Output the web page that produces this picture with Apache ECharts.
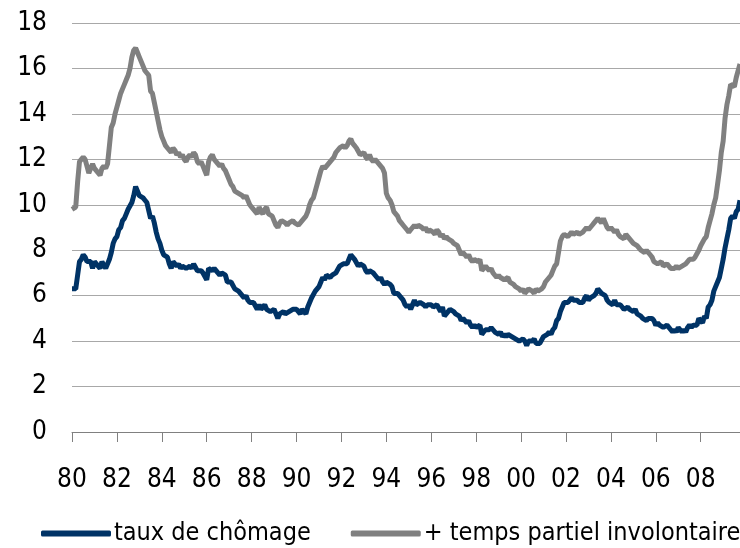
<!DOCTYPE html>
<html>
<head>
<meta charset="utf-8">
<script src="https://cdn.jsdelivr.net/npm/echarts@6/dist/echarts.min.js"></script>
<style>
  html, body { margin: 0; padding: 0; background: #fff; }
  #chart { width: 740px; height: 548px; }
</style>
</head>
<body>
<div id="chart"></div>
<script>
// séries mensuelles, janvier 1980 -> octobre 2009
var startYear = 1980
var nbMonths = 358

var chomage = [
  6.3, 6.3, 6.3, 6.9, 7.5, 7.6, 7.8, 7.7, 7.5, 7.5, 7.5, 7.2,
  7.5, 7.4, 7.4, 7.2, 7.5, 7.5, 7.2, 7.4, 7.6, 7.9, 8.3, 8.5,
  8.6, 8.9, 9.0, 9.3, 9.4, 9.6, 9.8, 9.8, 10.1, 10.4, 10.8, 10.8,
  10.4, 10.4, 10.3, 10.2, 10.1, 10.1, 9.4, 9.5, 9.2, 8.8, 8.5, 8.3,
  8.0, 7.8, 7.8, 7.7, 7.4, 7.2, 7.5, 7.5, 7.3, 7.4, 7.2, 7.3,
  7.3, 7.2, 7.2, 7.3, 7.2, 7.4, 7.4, 7.1, 7.1, 7.1, 7.0, 7.0,
  6.7, 7.2, 7.2, 7.1, 7.2, 7.2, 7.0, 6.9, 7.0, 7.0, 6.9, 6.6,
  6.6, 6.6, 6.6, 6.3, 6.3, 6.2, 6.1, 6.0, 5.9, 6.0, 5.8, 5.7,
  5.7, 5.7, 5.7, 5.4, 5.6, 5.4, 5.4, 5.6, 5.4, 5.4, 5.3, 5.3,
  5.4, 5.2, 5.0, 5.2, 5.2, 5.3, 5.2, 5.2, 5.3, 5.3, 5.4, 5.4,
  5.4, 5.3, 5.2, 5.4, 5.4, 5.2, 5.5, 5.7, 5.9, 5.9, 6.2, 6.3,
  6.4, 6.6, 6.8, 6.7, 6.9, 6.9, 6.8, 6.9, 6.9, 7.0, 7.0, 7.3,
  7.3, 7.4, 7.4, 7.4, 7.6, 7.8, 7.7, 7.6, 7.6, 7.3, 7.4, 7.4,
  7.3, 7.1, 7.0, 7.1, 7.1, 7.0, 6.9, 6.8, 6.7, 6.8, 6.6, 6.5,
  6.6, 6.6, 6.5, 6.4, 6.1, 6.1, 6.1, 6.0, 5.9, 5.8, 5.6, 5.5,
  5.6, 5.4, 5.4, 5.8, 5.6, 5.6, 5.7, 5.7, 5.6, 5.5, 5.6, 5.6,
  5.6, 5.5, 5.5, 5.6, 5.6, 5.3, 5.5, 5.1, 5.2, 5.2, 5.4, 5.4,
  5.3, 5.2, 5.2, 5.1, 4.9, 5.0, 4.9, 4.8, 4.9, 4.7, 4.6, 4.7,
  4.6, 4.6, 4.7, 4.3, 4.4, 4.5, 4.5, 4.5, 4.6, 4.5, 4.4, 4.4,
  4.3, 4.4, 4.2, 4.3, 4.2, 4.3, 4.3, 4.2, 4.2, 4.1, 4.1, 4.0,
  4.0, 4.1, 4.0, 3.8, 4.0, 4.0, 4.0, 4.1, 3.9, 3.9, 3.9, 3.9,
  4.2, 4.2, 4.3, 4.4, 4.3, 4.5, 4.6, 4.9, 5.0, 5.3, 5.5, 5.7,
  5.7, 5.7, 5.7, 5.9, 5.8, 5.8, 5.8, 5.7, 5.7, 5.7, 5.9, 6.0,
  5.8, 5.9, 5.9, 6.0, 6.1, 6.3, 6.2, 6.1, 6.1, 6.0, 5.8, 5.7,
  5.7, 5.6, 5.8, 5.6, 5.6, 5.6, 5.5, 5.4, 5.4, 5.5, 5.4, 5.4,
  5.3, 5.4, 5.2, 5.2, 5.1, 5.0, 5.0, 4.9, 5.0, 5.0, 5.0, 4.9,
  4.7, 4.8, 4.7, 4.7, 4.6, 4.6, 4.7, 4.7, 4.5, 4.4, 4.5, 4.4,
  4.6, 4.5, 4.4, 4.5, 4.4, 4.6, 4.7, 4.6, 4.7, 4.7, 4.7, 5.0,
  5.0, 4.8, 5.1, 5.0, 5.5, 5.6, 5.8, 6.2, 6.2, 6.6, 6.8, 7.2,
  7.6, 8.1, 8.5, 8.9, 9.4, 9.5, 9.4, 9.7, 9.8, 10.2
]

var tempsPartiel = [
  9.8, 9.8, 9.9, 11.0, 11.9, 12.0, 12.1, 12.0, 11.7, 11.4, 11.6, 11.8,
  11.6, 11.5, 11.4, 11.3, 11.6, 11.7, 11.6, 11.8, 12.6, 13.4, 13.6, 14.0,
  14.3, 14.6, 14.9, 15.1, 15.3, 15.5, 15.7, 16.0, 16.5, 16.8, 16.9, 16.7,
  16.5, 16.3, 16.1, 15.9, 15.8, 15.7, 15.0, 14.9, 14.5, 14.1, 13.7, 13.3,
  13.0, 12.8, 12.6, 12.5, 12.4, 12.3, 12.5, 12.4, 12.2, 12.3, 12.1, 12.2,
  12.0, 11.9, 12.1, 12.2, 12.1, 12.3, 12.2, 11.9, 11.8, 11.9, 11.7, 11.5,
  11.3, 11.9, 12.1, 12.2, 12.0, 11.9, 11.8, 11.7, 11.8, 11.6, 11.5, 11.3,
  11.1, 10.9, 10.8, 10.6, 10.6, 10.5, 10.5, 10.4, 10.3, 10.4, 10.2, 10.0,
  9.9, 9.8, 9.7, 9.6, 9.9, 9.7, 9.6, 9.8, 9.9, 9.6, 9.6, 9.5,
  9.3, 9.1, 9.0, 9.2, 9.3, 9.3, 9.2, 9.1, 9.2, 9.2, 9.3, 9.2,
  9.2, 9.1, 9.1, 9.3, 9.4, 9.5, 9.7, 10.0, 10.2, 10.3, 10.6, 10.9,
  11.2, 11.5, 11.7, 11.6, 11.7, 11.8, 11.8, 12.0, 12.1, 12.3, 12.4, 12.5,
  12.5, 12.6, 12.5, 12.6, 12.8, 12.9, 12.7, 12.6, 12.5, 12.5, 12.2, 12.2,
  12.3, 12.1, 12.0, 12.2, 12.0, 11.9, 12.0, 11.9, 11.8, 11.7, 11.6, 11.4,
  10.5, 10.3, 10.2, 10.0, 9.7, 9.6, 9.5, 9.3, 9.2, 9.1, 9.0, 8.9,
  8.8, 8.9, 9.0, 9.1, 9.0, 9.1, 9.1, 9.0, 8.9, 9.0, 8.8, 8.9,
  8.9, 8.8, 8.7, 8.9, 8.8, 8.6, 8.7, 8.5, 8.6, 8.5, 8.5, 8.4,
  8.3, 8.3, 8.2, 8.0, 7.8, 7.9, 7.8, 7.7, 7.8, 7.6, 7.5, 7.6,
  7.6, 7.5, 7.6, 7.1, 7.2, 7.3, 7.3, 7.1, 7.2, 7.0, 6.9, 6.8,
  6.9, 6.8, 6.8, 6.7, 6.7, 6.8, 6.6, 6.6, 6.5, 6.4, 6.4, 6.3,
  6.2, 6.3, 6.1, 6.1, 6.3, 6.3, 6.2, 6.1, 6.3, 6.2, 6.2, 6.3,
  6.4, 6.6, 6.6, 6.8, 6.9, 7.1, 7.3, 7.4, 7.9, 8.4, 8.6, 8.7,
  8.7, 8.6, 8.7, 8.8, 8.7, 8.7, 8.8, 8.7, 8.7, 8.8, 8.9, 9.0,
  8.9, 9.0, 9.1, 9.2, 9.3, 9.4, 9.3, 9.2, 9.4, 9.2, 9.0, 8.9,
  9.0, 8.9, 8.8, 8.9, 8.7, 8.6, 8.6, 8.5, 8.7, 8.6, 8.5, 8.4,
  8.3, 8.3, 8.2, 8.1, 8.0, 8.0, 7.9, 8.0, 7.9, 7.8, 7.7, 7.5,
  7.5, 7.4, 7.4, 7.5, 7.3, 7.3, 7.4, 7.3, 7.2, 7.2, 7.2, 7.3,
  7.2, 7.2, 7.3, 7.3, 7.4, 7.5, 7.6, 7.6, 7.6, 7.7, 7.7, 8.0,
  8.2, 8.2, 8.5, 8.6, 9.0, 9.3, 9.6, 10.0, 10.3, 10.9, 11.5, 12.3,
  12.8, 13.8, 14.4, 14.8, 15.3, 15.3, 15.2, 15.6, 15.6, 16.2
]

var yTicks = [0, 2, 4, 6, 8, 10, 12, 14, 16, 18]

// une catégorie par mois : "80-01", "80-02", ...
var months = []
for (var i = 0; i < nbMonths; i++) {
  var y = startYear + Math.floor(i / 12)
  var m = (i % 12) + 1
  months.push(String(y).slice(2) + '-' + (m < 10 ? '0' + m : m))
}

// pas d'Arial Narrow ici, on prend la DejaVu condensée
var narrow = '"DejaVu Sans Condensed", sans-serif'

var chart = echarts.init(document.getElementById('chart'))
chart.setOption({
  animation: false,
  textStyle: { fontFamily: narrow },
  grid: { left: 72, right: 0, top: 23, bottom: 116 },
  legend: {
    top: 516,
    left: 36,
    width: 760, // sinon le 2e item passe à la ligne
    itemGap: 40,
    itemWidth: 70,
    itemHeight: 6,
    icon: 'roundRect',
    textStyle: { fontFamily: narrow, fontSize: 25, color: '#000', padding: [0, 0, 0, -2] },
    data: ['taux de chômage', '+ temps partiel involontaire']
  },
  xAxis: {
    type: 'category',
    data: months,
    boundaryGap: false,
    axisLine: { lineStyle: { color: '#808080', width: 1 } },
    axisTick: {
      length: 10,
      interval: function (index) { return index % 24 === 0 },
      lineStyle: { color: '#808080' }
    },
    axisLabel: {
      interval: function (index) { return index % 24 === 0 },
      formatter: function (v) { return v.slice(0, 2) },
      fontFamily: narrow,
      fontSize: 26,
      color: '#000',
      margin: 35
    },
    splitLine: { show: false }
  },
  yAxis: {
    type: 'value',
    min: yTicks[0],
    max: yTicks[yTicks.length - 1],
    interval: 2,
    axisLine: { show: false },
    axisTick: { show: false },
    axisLabel: { fontFamily: narrow, fontSize: 26, color: '#000', margin: 25 },
    splitLine: { lineStyle: { color: '#a8a8a8', width: 1 } }
  },
  series: [
    {
      name: 'taux de chômage',
      type: 'line',
      data: chomage,
      symbol: 'none',
      color: '#003366',
      lineStyle: { width: 5, color: '#003366' }
    },
    {
      name: '+ temps partiel involontaire',
      type: 'line',
      data: tempsPartiel,
      symbol: 'none',
      color: '#808080',
      lineStyle: { width: 5, color: '#808080' }
    }
  ]
})
</script>
</body>
</html>
